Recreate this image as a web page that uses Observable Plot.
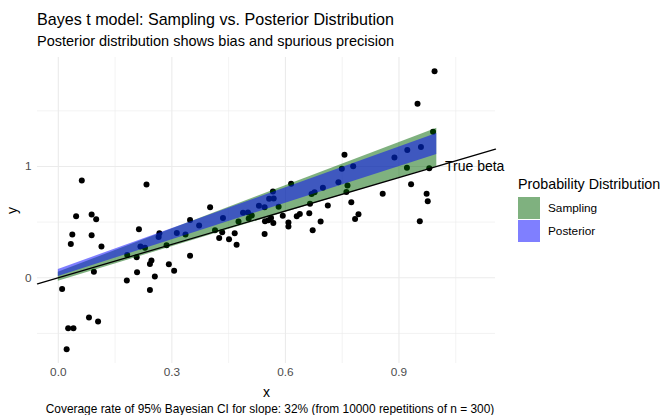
<!DOCTYPE html>
<html><head><meta charset="utf-8">
<script src="https://cdn.jsdelivr.net/npm/d3@7"></script>
<script src="https://cdn.jsdelivr.net/npm/@observablehq/plot@0.6"></script>
<style>
body{margin:0;width:663px;height:415px;overflow:hidden;background:#fff;font-family:"Liberation Sans",Arial,sans-serif;position:relative}
.t{position:absolute;white-space:nowrap;color:#000}
#title{left:37px;top:10px;font-size:16.1px}
#subtitle{left:37px;top:33px;font-size:14.5px}
#chart{position:absolute;left:0;top:50px}
#legend{position:absolute;left:518px;top:176px}
#legend .lt{font-size:14.3px;margin-bottom:5px;white-space:nowrap}
#legend .row{display:flex;align-items:center;height:22.5px}
#legend .key{width:22px;height:22px;margin-right:8px}
#legend .lab{font-size:11.8px}
#caption{left:37px;width:466px;top:402px;font-size:11.9px;text-align:center}
</style></head><body>
<div class="t" id="title">Bayes t model: Sampling vs. Posterior Distribution</div>
<div class="t" id="subtitle">Posterior distribution shows bias and spurious precision</div>
<div id="chart"></div>
<div id="legend"></div>
<div class="t" id="caption">Coverage rate of 95% Bayesian CI for slope: 32% (from 10000 repetitions of n = 300)</div>
<script>
// observed data points
const ptX = [0.062,0.233,0.047,0.088,0.100,0.037,0.088,0.033,0.114,0.213,0.217,0.229,0.182,0.207,0.094,0.246,0.242,0.010,0.181,0.208,0.255,0.242,0.081,0.105,0.026,0.040,0.022,0.267,0.265,0.401,0.348,0.313,0.336,0.372,0.435,0.488,0.501,0.511,0.530,0.545,0.557,0.569,0.286,0.348,0.292,0.306,0.414,0.433,0.425,0.451,0.466,0.471,0.476,0.503,0.545,0.546,0.555,0.562,0.568,0.593,0.582,0.567,0.615,0.608,0.608,0.630,0.638,0.663,0.672,0.693,0.665,0.669,0.677,0.699,0.712,0.740,0.749,0.756,0.779,0.764,0.761,0.774,0.793,0.784,0.857,0.888,0.922,0.958,0.921,0.980,0.932,0.973,0.976,0.955,0.990,0.949,0.994];
const ptY = [0.874,0.838,0.553,0.569,0.527,0.389,0.383,0.304,0.281,0.437,0.281,0.270,0.205,0.185,0.055,0.155,0.124,-0.101,-0.024,0.050,0.012,-0.110,-0.357,-0.393,-0.453,-0.453,-0.642,0.401,0.367,0.634,0.519,0.403,0.389,0.470,0.537,0.584,0.587,0.560,0.648,0.634,0.710,0.712,0.293,0.198,0.121,0.064,0.427,0.409,0.358,0.347,0.400,0.296,0.506,0.533,0.393,0.509,0.517,0.537,0.492,0.558,0.639,0.775,0.845,0.497,0.461,0.553,0.573,0.580,0.428,0.506,0.665,0.753,0.769,0.809,0.650,0.859,0.979,1.105,1.003,0.829,0.771,0.678,0.570,0.528,0.755,1.081,1.148,1.175,0.988,0.984,0.841,0.755,0.688,0.508,1.312,1.563,1.856];
// interval bands
const bandX = [0, 1];
const samplingLo = [-0.03, 1.0];
const samplingHi = [0.05, 1.344];
const posteriorLo = [0.012, 1.108];
const posteriorHi = [0.075, 1.296];
// true line
const trueIntercept = 0, trueSlope = 1;
const labelText = "True beta", labelX = 1.1, labelY = 1;
// axes
const xDomain = [-0.055, 1.155], yDomain = [-0.77, 1.979];
const xTicks = [0, 0.3, 0.6, 0.9], xMinor = [0.15, 0.45, 0.75, 1.05];
const yTicks = [0, 1], yMinor = [-0.5, 0.5, 1.5];
const legendNames = ["Sampling", "Posterior"];
const legendColors = ["#006400", "#0000ff"];

const points = ptX.map((x, i) => ({x, y: ptY[i]}));
const sampling = bandX.map((x, i) => ({x, lo: samplingLo[i], hi: samplingHi[i]}));
const posterior = bandX.map((x, i) => ({x, lo: posteriorLo[i], hi: posteriorHi[i]}));
const abline = xDomain.map(x => ({x, y: trueIntercept + trueSlope * x}));

const plot = Plot.plot({
  width: 510, height: 348,
  marginLeft: 37, marginRight: 15, marginTop: 7, marginBottom: 35,
  style: {fontFamily: "Liberation Sans, Arial, sans-serif", background: "transparent", overflow: "visible"},
  x: {domain: xDomain},
  y: {domain: yDomain},
  marks: [
    Plot.ruleX(xMinor, {stroke: "#ebebeb", strokeWidth: 0.6}),
    Plot.ruleY(yMinor, {stroke: "#ebebeb", strokeWidth: 0.6}),
    Plot.ruleX(xTicks, {stroke: "#ebebeb", strokeWidth: 1.1}),
    Plot.ruleY(yTicks, {stroke: "#ebebeb", strokeWidth: 1.1}),
    Plot.dot(points, {x: "x", y: "y", r: 3, fill: "black", stroke: "none"}),
    Plot.areaY(sampling, {x: "x", y1: "lo", y2: "hi", fill: legendColors[0], fillOpacity: 0.5}),
    Plot.areaY(posterior, {x: "x", y1: "lo", y2: "hi", fill: legendColors[1], fillOpacity: 0.5}),
    Plot.line(abline, {x: "x", y: "y", stroke: "black", strokeWidth: 1.3}),
    Plot.text([0], {x: () => labelX, y: () => labelY, text: () => labelText, fontSize: 14, fill: "black"}),
    Plot.axisX({ticks: xTicks, tickFormat: d3.format(".1f"), tickSize: 0, tickPadding: 4, fontSize: 11.8, color: "#4d4d4d",
      label: "x", labelAnchor: "center", labelArrow: "none", labelOffset: 33}),
    Plot.axisY({ticks: yTicks, tickFormat: d3.format("d"), tickSize: 0, tickPadding: 6, fontSize: 11.8, color: "#4d4d4d",
      label: "y", labelAnchor: "center", labelArrow: "none", labelOffset: 30})
  ]
});
document.getElementById("chart").appendChild(plot);
document.querySelectorAll("#chart g[aria-label='x-axis label'], #chart g[aria-label='y-axis label']").forEach(g => { g.setAttribute("fill", "#000"); g.setAttribute("font-size", "14"); });

const lg = document.getElementById("legend");
lg.innerHTML = `<div class="lt">Probability Distribution</div>` + legendNames.map((n, i) =>
  `<div class="row"><div class="key" style="background:${legendColors[i]};opacity:0.5"></div><div class="lab">${n}</div></div>`).join("");
</script>
</body></html>
